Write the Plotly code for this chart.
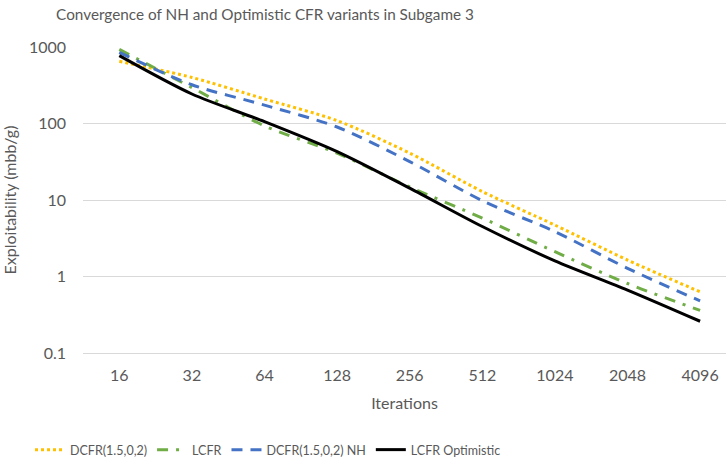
import plotly.graph_objects as go

iterations = ["16", "32", "64", "128", "256", "512", "1024", "2048", "4096"]
dcfr = [650, 400, 209, 109, 41, 12.9, 4.7, 1.64, 0.63]
lcfr = [930, 295, 93, 41, 14.8, 5.8, 2.11, 0.81, 0.36]
dcfr_nh = [850, 321, 174, 90, 31.8, 9.8, 3.86, 1.28, 0.48]
lcfr_opt = [770, 243, 106, 43, 14.3, 4.5, 1.6, 0.665, 0.26]

series = [
    ("DCFR(1.5,0,2)", dcfr, "#FFC000", "3px,3px"),
    ("LCFR", lcfr, "#70AD47", "11px,8px,3px,8px"),
    ("DCFR(1.5,0,2) NH", dcfr_nh, "#4472C4", "11px,8px"),
    ("LCFR Optimistic", lcfr_opt, "#000000", "solid"),
]

FONT = "Lato"
GREY = "#595959"

fig = go.Figure()
for name, vals, color, dash in series:
    fig.add_trace(go.Scatter(
        x=iterations, y=vals, name=name, mode="lines",
        line=dict(color=color, width=3, dash=dash, shape="spline", smoothing=0.8),
    ))

W, H = 726, 461
L, T, B = 83, 47, 108
spacing = 72.6
plot_w = W - L
x_max = -0.5 + plot_w / spacing

fig.update_layout(
    width=W, height=H,
    margin=dict(l=L, r=0, t=T, b=B, pad=0, autoexpand=False),
    paper_bgcolor="white", plot_bgcolor="white",
    font=dict(family=FONT, size=16, color=GREY),
    title=dict(text="Convergence of NH and Optimistic CFR variants in Subgame 3",
               x=265 / W, xref="container", xanchor="center",
               y=1 - 15 / H, yref="container", yanchor="middle",
               font=dict(family=FONT, size=15.3, color=GREY)),
    showlegend=True,
    legend=dict(orientation="h", xref="container", x=268 / W, xanchor="center",
                yref="container", y=1 - 450 / H, yanchor="middle",
                font=dict(family=FONT, size=12.5, color=GREY),
                itemwidth=30, tracegroupgap=0),
    xaxis=dict(type="category", range=[-0.5, x_max], showgrid=False,
               automargin=False,
               showline=True, linecolor="#D9D9D9", linewidth=1,
               ticks="", ticklabelstandoff=8,
               title=dict(text="Iterations", standoff=14,
                          font=dict(family=FONT, size=16, color=GREY)),
               tickfont=dict(family=FONT, size=16, color=GREY)),
    yaxis=dict(type="log", range=[-1, 3], showgrid=True, gridcolor="#D9D9D9",
               automargin=False,
               gridwidth=1, zeroline=False, ticks="",
               tickvals=[0.1, 1, 10, 100, 1000],
               ticktext=["0.1", "1", "10", "100", "1000"],
               ticklabelstandoff=16,
               title=dict(text="Exploitability (mbb/g)", standoff=12,
                          font=dict(family=FONT, size=16, color=GREY)),
               tickfont=dict(family=FONT, size=16, color=GREY)),
)

fig.write_html("out.html",
               config={"displayModeBar": False},
               post_script="document.body.style.margin='0';"
                           "document.body.style.overflow='hidden';")
